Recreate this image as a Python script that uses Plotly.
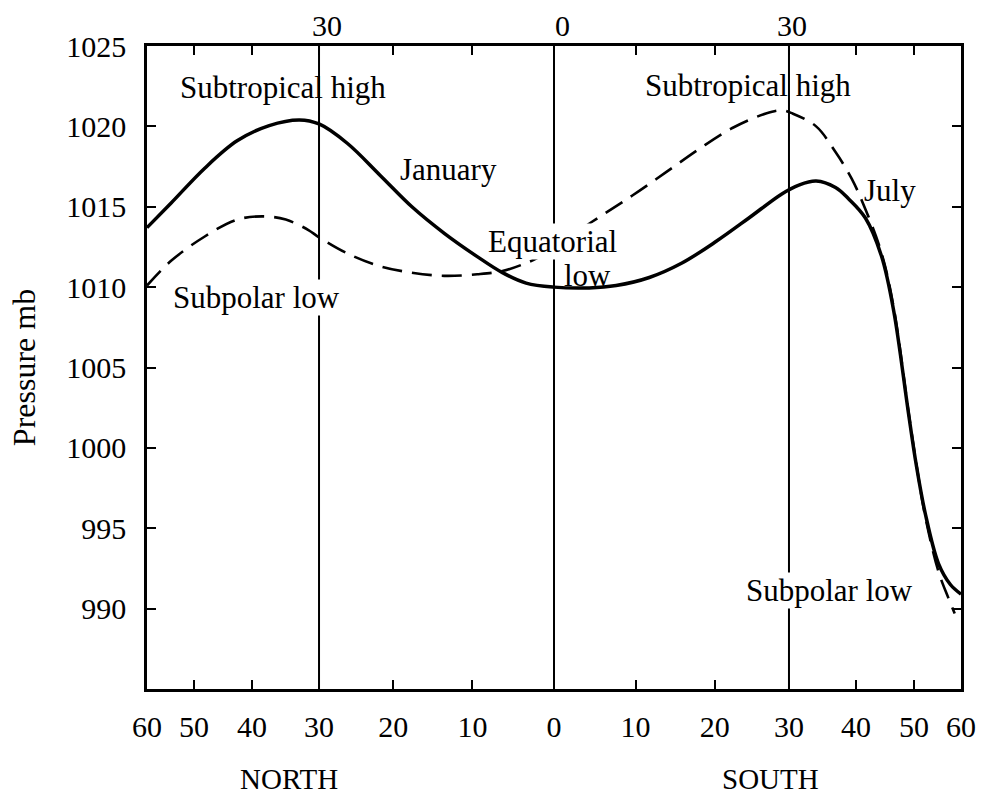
import numpy as np
import plotly.graph_objects as go

# Latitude in degrees (north positive, south negative) and pressure in mb
jan_lat = [60, 54.5, 48, 42.4, 37.3, 32.8, 30, 26.1, 21.7, 17.6, 13.5, 9.4, 6.3, 3.4, 0,
           -4.3, -7.6, -11.7, -15.8, -20.2, -24.5, -29, -31.4, -33.9, -36.8, -38.8, -41.5,
           -44.2, -46.3, -48.9, -50.4, -52.2, -54.9, -57.5, -60]
jan_p = [1013.7, 1015.25, 1017.4, 1019.1, 1020.05, 1020.4, 1020.15, 1018.95, 1016.95, 1015.0,
         1013.35, 1011.9, 1010.9, 1010.25, 1010.0,
         1009.95, 1010.1, 1010.6, 1011.5, 1012.85, 1014.3, 1015.8, 1016.35, 1016.6, 1016.2,
         1015.5, 1014.3, 1011.9, 1008.5, 1002.3, 999.0, 995.9, 992.8, 991.5, 990.9]

jul_lat = [60, 54.5, 48, 42.4, 38.1, 34.8, 31.5, 30, 26.1, 21.7, 17.6, 13.5, 9.4, 6.3, 3.4, 1.9,
           -4.6, -9.6, -13.8, -18, -22.3, -26.8, -29, -30.5, -33.9, -36.8, -39.3, -41.5,
           -44.2, -46.3, -48.9, -50.4, -52.2, -54.9, -57, -58.5]
jul_p = [1010.1, 1011.65, 1013.15, 1014.2, 1014.4, 1014.2, 1013.55, 1013.1, 1012.1, 1011.3,
         1010.9, 1010.7, 1010.8, 1011.0, 1011.5, 1011.85,
         1014.05, 1015.7, 1017.15, 1018.6, 1019.9, 1020.8, 1021.0, 1020.8, 1020.0, 1018.4,
         1016.75, 1014.85, 1012.1, 1008.7, 1002.4, 999.1, 995.7, 992.3, 990.7, 989.7]

tick_lat = [60, 50, 40, 30, 20, 10, 0, -10, -20, -30, -40, -50, -60]
tick_text = ["60", "50", "40", "30", "20", "10", "0", "10", "20", "30", "40", "50", "60"]
top_label_lat = [30, 0, -30]
top_label_text = ["30", "0", "30"]
ref_line_lat = [30, 0, -30]
y_ticks = [990, 995, 1000, 1005, 1010, 1015, 1020, 1025]
y_range = [985, 1025]


def xpos(lat):
    """Latitude -> horizontal position (sine-of-latitude scale, north on the left)."""
    return -np.sin(np.radians(np.asarray(lat, dtype=float)))


FONT = "Liberation Serif, Times New Roman, serif"
W, H = 988, 797
L, R, T, B = 147, 17, 46, 108
PW, PH = W - L - R, H - T - B


def px(x):
    return (x - L) / PW


def py(y):
    return (H - B - y) / PH


fig = go.Figure()
fig.add_trace(go.Scatter(x=xpos(jan_lat), y=jan_p, mode="lines", name="January",
                         line=dict(color="black", width=3.5, shape="spline", smoothing=1.0),
                         showlegend=False, hoverinfo="skip"))
fig.add_trace(go.Scatter(x=xpos(jul_lat), y=jul_p, mode="lines", name="July",
                         line=dict(color="black", width=2.6, dash="20px,10px", shape="spline", smoothing=1.0),
                         showlegend=False, hoverinfo="skip"))

for lat in ref_line_lat:
    fig.add_shape(type="line", xref="x", yref="paper", x0=float(xpos(lat)), x1=float(xpos(lat)),
                  y0=0, y1=1, line=dict(color="black", width=2), layer="below")

lim = float(xpos(60))
fig.update_xaxes(range=[lim, -lim], tickvals=xpos(tick_lat).tolist(), ticktext=tick_text,
                 ticks="inside", ticklen=9, tickwidth=1.6, tickcolor="black",
                 showline=True, linewidth=2.5, linecolor="black", mirror="ticks",
                 showgrid=False, zeroline=False, ticklabelstandoff=9,
                 tickfont=dict(family=FONT, size=30, color="black"))
fig.update_yaxes(range=y_range, tickvals=y_ticks, ticks="inside", ticklen=9, tickwidth=1.6,
                 tickcolor="black", showline=True, linewidth=2.5, linecolor="black",
                 mirror="ticks", showgrid=False, zeroline=False, ticklabelstandoff=12,
                 tickfont=dict(family=FONT, size=30, color="black"),
                 title=dict(text="Pressure mb", font=dict(family=FONT, size=32, color="black"),
                            standoff=22))

# top latitude labels
for lat, txt, dx in zip(top_label_lat, top_label_text, [8, 8, 3]):
    fig.add_annotation(x=float(xpos(lat)), y=1, xref="x", yref="paper", text=txt,
                       showarrow=False, yanchor="bottom", yshift=2, xshift=dx,
                       font=dict(family=FONT, size=30, color="black"))

labels = [
    ("Subtropical high", 285, 87, None),
    ("Subtropical high", 755, 86, None),
    ("January", 452, 169, None),
    ("Equatorial", 557, 242, "white"),
    ("low", 593, 275, None),
    ("July", 899, 191, None),
    ("Subpolar low", 258, 297, "white"),
    ("Subpolar low", 838, 590, "white"),
]
for txt, x, y, bg in labels:
    kw = dict(bgcolor=bg) if bg else {}
    fig.add_annotation(x=px(x), y=py(y), xref="paper", yref="paper", text=txt, showarrow=False,
                       xanchor="center", yanchor="middle", borderpad=0,
                       font=dict(family=FONT, size=31, color="black"), **kw)

for txt, x in [("NORTH", 291), ("SOUTH", 778)]:
    fig.add_annotation(x=px(x), y=py(796), xref="paper", yref="paper", text=txt, showarrow=False,
                       xanchor="center", yanchor="bottom", borderpad=0,
                       font=dict(family=FONT, size=29, color="black"))

fig.update_layout(width=W, height=H, margin=dict(l=L, r=R, t=T, b=B),
                  paper_bgcolor="white", plot_bgcolor="white", showlegend=False)

fig.write_html("out.html")
